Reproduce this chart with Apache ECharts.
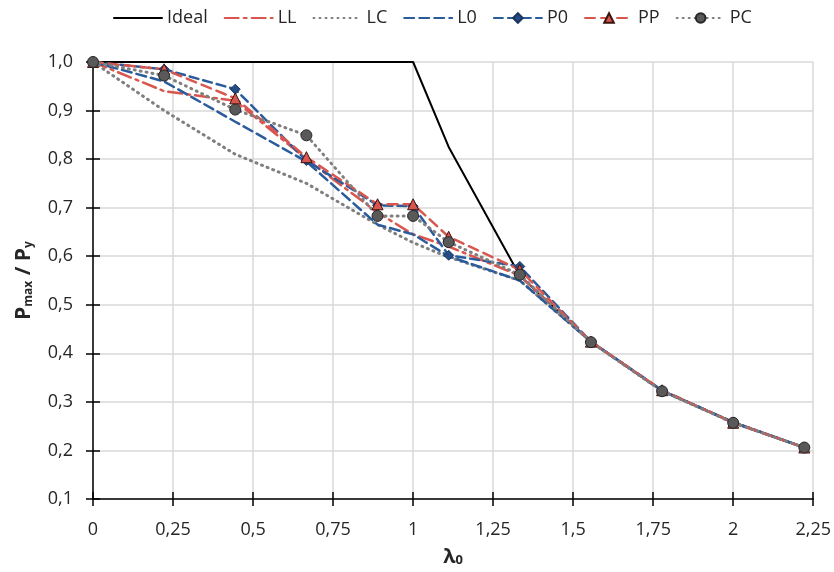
<!DOCTYPE html>
<html>
<head>
<meta charset="utf-8">
<script src="https://cdn.jsdelivr.net/npm/echarts@6/dist/echarts.min.js"></script>
<style>
  html, body { margin: 0; padding: 0; background: #fff; }
  #chart { width: 834px; height: 572px; }
</style>
</head>
<body>
<div id="chart"></div>
<script>
// slenderness values (x)
const lambda = [0, 0.2222, 0.4444, 0.6667, 0.8889, 1, 1.1111, 1.3333, 1.5556, 1.7778, 2, 2.2222];
// Pmax / Py per curve
const ideal = [1, 1, 1, 1, 1, 1, 0.825, 0.56, 0.424, 0.323, 0.258, 0.206];
const LL = [1, 0.94, 0.92, 0.80, 0.69, 0.645, 0.62, 0.56, 0.424, 0.323, 0.258, 0.206];
const LC = [1, 0.90, 0.81, 0.75, 0.665, 0.628, 0.598, 0.55, 0.424, 0.323, 0.258, 0.206];
const L0 = [1, 0.96, 0.877, 0.795, 0.665, 0.645, 0.60, 0.55, 0.424, 0.323, 0.258, 0.206];
const P0 = [1, 0.985, 0.944, 0.797, 0.705, 0.703, 0.602, 0.579, 0.424, 0.324, 0.257, 0.206];
const PP = [1, 0.985, 0.925, 0.804, 0.707, 0.707, 0.64, 0.572, 0.424, 0.324, 0.257, 0.206];
const PC = [1, 0.972, 0.902, 0.849, 0.683, 0.683, 0.629, 0.562, 0.423, 0.322, 0.257, 0.206];

const font = "'Open Sans', 'Noto Sans', sans-serif";
const textColor = "#262626";
const red = "#d9564e";
const blue = "#2a5b9b";
const gray = "#7f7f7f";

const pairs = arr => lambda.map((x, i) => [x, arr[i]]);
const comma = v => String(v).replace(".", ",");

const chart = echarts.init(document.getElementById("chart"));

// plain lines: no markers, and a transparent legend marker so only the line shows
const mkLine = (name, arr, color, type, width, extra) =>
  Object.assign({
    name: name,
    type: "line",
    data: pairs(arr),
    symbol: "circle",
    showSymbol: false,
    lineStyle: { color: color, type: type, width: width, cap: "round" },
    itemStyle: { color: "transparent", borderWidth: 0 },
    z: 2
  }, extra || {});

chart.setOption({
  animation: false,
  textStyle: { fontFamily: font },
  legend: {
    left: 108,
    top: 4,
    itemWidth: 48,
    itemHeight: 12,
    itemGap: 16,
    textStyle: { fontSize: 18, color: textColor, fontFamily: font }
  },
  grid: { left: 93, right: 15, top: 62, bottom: 64 },
  xAxis: [
    {
      type: "value",
      min: 0,
      max: 2.25,
      interval: 0.25,
      position: "bottom",
      axisLine: { lineStyle: { color: "#000", width: 1.5 } },
      axisTick: { show: true, length: 7, lineStyle: { color: "#000", width: 1.5 } },
      axisLabel: { fontSize: 18, color: textColor, margin: 22, formatter: comma },
      splitLine: { show: true, lineStyle: { color: "#d9d9d9", width: 1.5 } },
      name: "{b|λ}{s|0}",
      nameLocation: "middle",
      nameGap: 44,
      nameTextStyle: {
        rich: {
          b: { fontSize: 20, fontWeight: "bold", color: textColor, fontFamily: font, verticalAlign: "bottom", lineHeight: 24 },
          s: { fontSize: 13, fontWeight: "bold", color: textColor, fontFamily: font, verticalAlign: "bottom", lineHeight: 24, padding: [8, 0, 0, 0] }
        }
      }
    },
    {
      type: "value",
      min: 0,
      max: 2.25,
      interval: 0.25,
      position: "bottom",
      axisLine: { show: false },
      axisTick: { show: true, inside: true, length: 7, lineStyle: { color: "#000", width: 1.5 } },
      axisLabel: { show: false },
      splitLine: { show: false }
    }
  ],
  yAxis: [
    {
      type: "value",
      min: 0.1,
      max: 1,
      interval: 0.1,
      position: "left",
      axisLine: { show: true, lineStyle: { color: "#000", width: 1.5 } },
      axisTick: { show: true, length: 7, lineStyle: { color: "#000", width: 1.5 } },
      axisLabel: { fontSize: 18, color: textColor, margin: 20, formatter: v => v.toFixed(1).replace(".", ",") },
      splitLine: { show: true, lineStyle: { color: "#d9d9d9", width: 1.5 } },
      name: "{b|P}{s|max}{b| / P}{s|y}",
      nameLocation: "middle",
      nameRotate: 90,
      nameGap: 58,
      nameTextStyle: {
        rich: {
          b: { fontSize: 21, fontWeight: "bold", color: textColor, fontFamily: font, verticalAlign: "bottom", lineHeight: 24 },
          s: { fontSize: 12, fontWeight: "bold", color: textColor, fontFamily: font, verticalAlign: "bottom", lineHeight: 24, padding: [8, 0, 0, 0] }
        }
      }
    },
    {
      type: "value",
      min: 0.1,
      max: 1,
      interval: 0.1,
      position: "left",
      axisLine: { show: false },
      axisTick: { show: true, inside: true, length: 7, lineStyle: { color: "#000", width: 1.5 } },
      axisLabel: { show: false },
      splitLine: { show: false }
    }
  ],
  series: [
    mkLine("Ideal", ideal, "#000", "solid", 2),
    mkLine("LL", LL, red, [14, 5, 3, 5], 2.5),
    mkLine("LC", LC, gray, [1, 5], 3),
    mkLine("L0", L0, blue, [10, 5], 2.5),
    mkLine("P0", P0, blue, [9, 5], 2.5, {
      showSymbol: true, symbol: "diamond", symbolSize: 10,
      itemStyle: { color: "#244d85", borderColor: "#1c3560", borderWidth: 1 }
    }),
    mkLine("PP", PP, red, [10, 6], 2.5, {
      showSymbol: true, symbol: "triangle", symbolSize: 11,
      itemStyle: { color: "#d9564e", borderColor: "#3a1512", borderWidth: 1 }
    }),
    mkLine("PC", PC, gray, [1, 5], 3, {
      showSymbol: true, symbol: "circle", symbolSize: 11,
      itemStyle: { color: "#595959", borderColor: "#262626", borderWidth: 1 }
    })
  ]
});
</script>
</body>
</html>
